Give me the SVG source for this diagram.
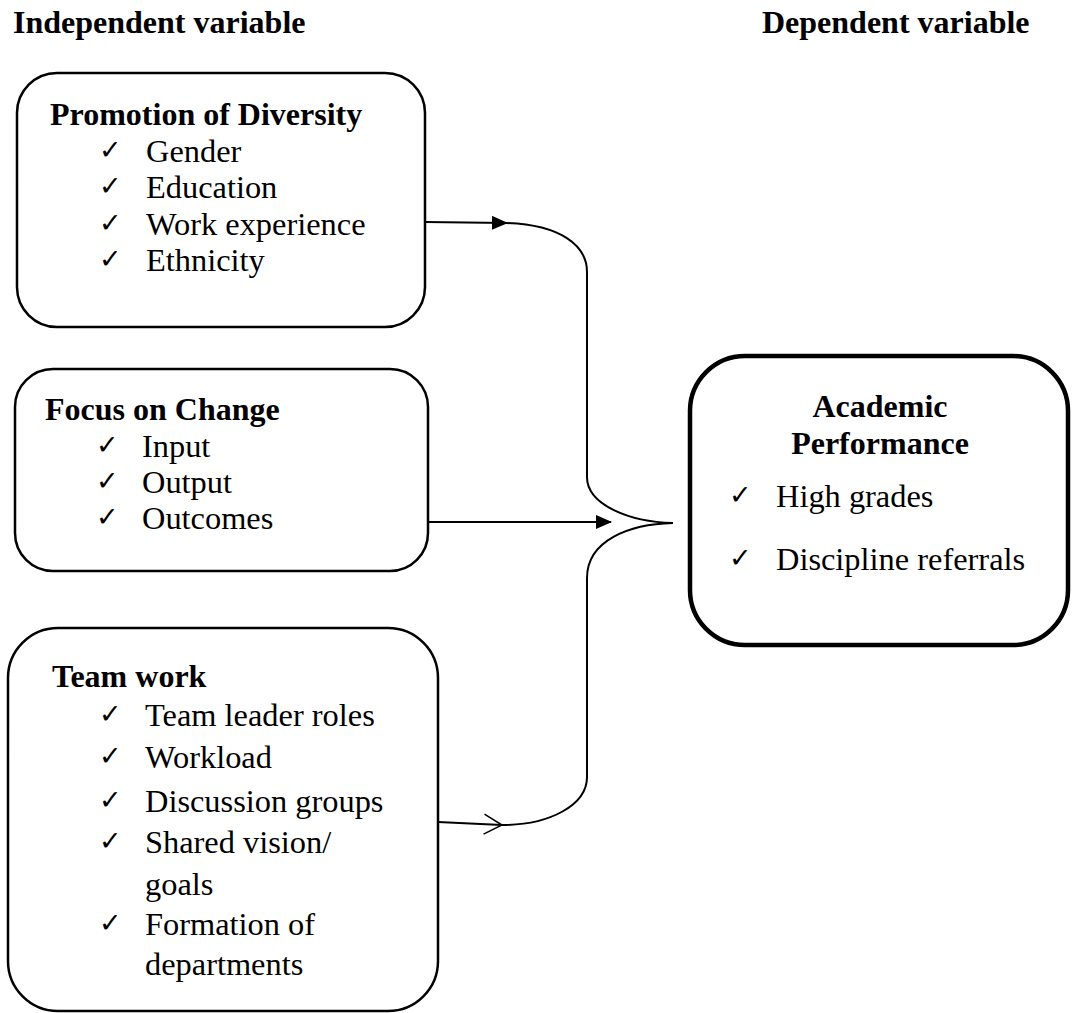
<svg xmlns="http://www.w3.org/2000/svg" width="1073" height="1013" viewBox="0 0 1073 1013">
<style>
.box{fill:none;stroke:#000;stroke-width:2.5}
.big{fill:none;stroke:#000;stroke-width:4.5}
.h{font-family:"Liberation Serif",serif;font-weight:bold;font-size:32px;fill:#000}
.t{font-family:"Liberation Serif",serif;font-size:32.4px;fill:#000}
.c{font-family:"DejaVu Sans",sans-serif;font-size:27px;fill:#000}
.ln{fill:none;stroke:#000;stroke-width:2}
</style>
<defs>
<marker id="fa" markerWidth="16" markerHeight="14" refX="15" refY="7" orient="auto" markerUnits="userSpaceOnUse">
<path d="M0,0 L16,7 L0,14 Z" fill="#000"/>
</marker>
<marker id="oa" markerWidth="22" markerHeight="22" refX="20" refY="11" orient="auto" markerUnits="userSpaceOnUse">
<path d="M2,1 L20,11 L2,21" fill="none" stroke="#000" stroke-width="1.5"/>
</marker>
</defs>
<text class="h" x="13" y="33">Independent variable</text>
<text class="h" x="762" y="33">Dependent variable</text>
<g id="promotion">
<rect class="box" x="17" y="73" width="408" height="254" rx="40"/>
<text class="h" x="50" y="125">Promotion of Diversity</text>
<text class="c" x="99" y="159">✓</text><text class="t" x="146" y="162">Gender</text>
<text class="c" x="99" y="195">✓</text><text class="t" x="146" y="198">Education</text>
<text class="c" x="99" y="232">✓</text><text class="t" x="146" y="235">Work experience</text>
<text class="c" x="99" y="268">✓</text><text class="t" x="146" y="271">Ethnicity</text>
</g>
<g id="focus">
<rect class="box" x="15" y="369" width="413" height="202" rx="38"/>
<text class="h" x="45" y="420">Focus on Change</text>
<text class="c" x="96" y="454">✓</text><text class="t" x="142" y="457">Input</text>
<text class="c" x="96" y="490">✓</text><text class="t" x="142" y="493">Output</text>
<text class="c" x="96" y="526">✓</text><text class="t" x="142" y="529">Outcomes</text>
</g>
<g id="teamwork">
<rect class="box" x="8" y="628" width="430" height="383" rx="50"/>
<text class="h" x="52" y="687">Team work</text>
<text class="c" x="99" y="723">✓</text><text class="t" x="145" y="726">Team leader roles</text>
<text class="c" x="99" y="765">✓</text><text class="t" x="145" y="768">Workload</text>
<text class="c" x="99" y="809">✓</text><text class="t" x="145" y="812">Discussion groups</text>
<text class="c" x="99" y="850">✓</text><text class="t" x="145" y="853">Shared vision/</text>
<text class="t" x="145" y="895">goals</text>
<text class="c" x="99" y="932">✓</text><text class="t" x="145" y="935">Formation of</text>
<text class="t" x="145" y="975">departments</text>
</g>
<g id="academic">
<rect class="big" x="690" y="356" width="378" height="289" rx="55"/>
<text class="h" x="880" y="417" text-anchor="middle">Academic</text>
<text class="h" x="880" y="454" text-anchor="middle">Performance</text>
<text class="c" x="729" y="504">✓</text><text class="t" x="776" y="507">High grades</text>
<text class="c" x="729" y="567">✓</text><text class="t" x="776" y="570">Discipline referrals</text>
</g>
<g id="connectors">
<path class="ln" d="M425,222 L507,223" marker-end="url(#fa)"/>
<path class="ln" d="M428,522 L611,522" marker-end="url(#fa)"/>
<path class="ln" d="M438,822 L502,825" marker-end="url(#oa)"/>
<path class="ln" d="M507,223 C560,225 587,245 587,272 L587,477 C587,505 630,522 673,523 C630,524 587,540 587,578 L587,777 C587,805 550,825 502,825"/>
</g>
</svg>
